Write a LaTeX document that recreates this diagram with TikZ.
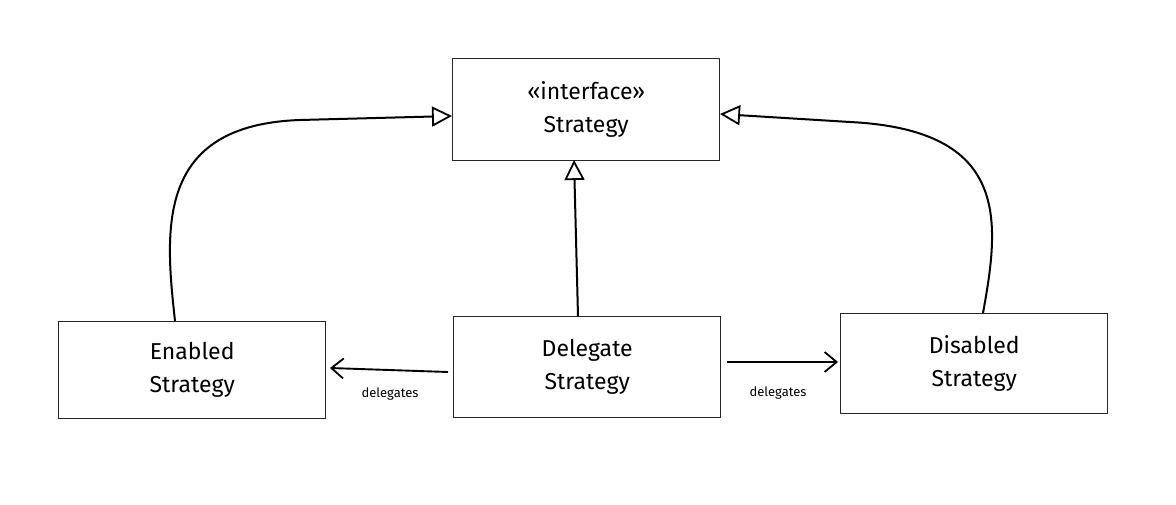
\documentclass[tikz,border=0pt]{standalone}
\usepackage{fontspec}
\setmainfont{Fira Sans}
\usetikzlibrary{arrows.meta}
\begin{document}
\begin{tikzpicture}[x=1pt,y=-1pt,
  cls/.style={draw=black!85, line width=1.4pt, minimum width=267pt, anchor=north west, inner sep=0pt, align=center, font=\fontsize{23}{33}\selectfont},
  inherit/.style={draw=black, line width=2pt, -{Triangle[open, length=20pt, width=20pt, line width=1.8pt]}},
  deleg/.style={draw=black, line width=1.9pt, -{Straight Barb[length=12pt, width=20pt, line width=1.8pt]}},
  lbl/.style={font=\fontsize{13}{15}\selectfont, inner sep=1pt}]
\useasboundingbox (0,0) rectangle (1176,504);
\fill[white] (0,0) rectangle (1176,504);
\node[cls, minimum height=102pt] (iface) at (452,58) {«interface»\\Strategy};
\node[cls, minimum height=97pt] (enabled) at (58,321) {Enabled\\Strategy};
\node[cls, minimum height=101pt] (deleg) at (453,316) {Delegate\\Strategy};
\node[cls, minimum height=100pt] (disabled) at (840,313) {Disabled\\Strategy};
\coordinate (lt) at (452,116);
\coordinate (rt) at (720,114);
\draw[inherit] (175,321) .. controls (165,230) and (155,125) .. (300,120) -- (lt);
\draw[inherit] (983,313) .. controls (1000,220) and (1010,130) .. (850,122) -- (rt);
\draw[inherit] (578,316) -- (574,160);
\draw[deleg] (448,372) -- (330,368);
\draw[deleg] (727,362) -- (838,362);
\node[lbl] (l1) at (390,394) {delegates};
\node[lbl] (l2) at (778,393) {delegates};
\end{tikzpicture}
\end{document}
